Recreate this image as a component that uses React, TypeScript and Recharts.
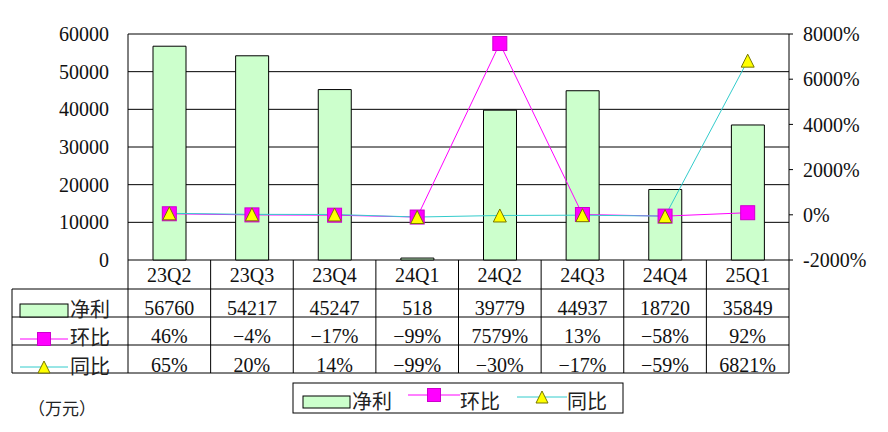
import React from 'react';
import {
  ComposedChart,
  Bar,
  Line,
  XAxis,
  YAxis,
  CartesianGrid,
  Customized,
} from 'recharts';

const QUARTERS   = ['23Q2', '23Q3', '23Q4', '24Q1', '24Q2', '24Q3', '24Q4', '25Q1'];
const NET_PROFIT = [56760, 54217, 45247, 518, 39779, 44937, 18720, 35849];
const QOQ        = [46, -4, -17, -99, 7579, 13, -58, 92];
const YOY        = [65, 20, 14, -99, -30, -17, -59, 6821];
const LEFT_TICKS  = [0, 10000, 20000, 30000, 40000, 50000, 60000];
const RIGHT_TICKS = [-2000, 0, 2000, 4000, 6000, 8000];
const SERIES_NAMES = ['净利', '环比', '同比'];
const UNIT_LABEL = '（万元）';

const BAR_COLOR  = '#CCFFCC';
const QOQ_COLOR  = '#FF00FF';
const YOY_COLOR  = '#33CCCC';
const TRI_COLOR  = '#FFFF00';

const W = 888;
const H = 432;
const PLOT_L = 128;
const PLOT_R = 789;
const PLOT_T = 34;
const PLOT_B = 260;
const AXIS_W = 60;
const XAXIS_H = 30;
const COL_W = (PLOT_R - PLOT_L) / QUARTERS.length;
const TABLE_L = 12;
const ROW_LINES = [289, 317, 345, 373];
const TEXT_Y = [275, 308, 336, 365];

const NUM_FONT = '"Liberation Serif", "Noto Sans CJK SC", serif';
const CJK_FONT = '"Noto Sans CJK SC", sans-serif';

const data = QUARTERS.map((q, i) => ({
  quarter: q,
  net: NET_PROFIT[i],
  qoq: QOQ[i],
  yoy: YOY[i],
}));

const fmtPct = (v: number) => `${v}%`;
const fmtCell = (v: number) => (v < 0 ? `−${Math.abs(v)}` : `${v}`);

function SquareDot(props: any) {
  const { cx, cy, size = 14 } = props;
  if (cx == null || cy == null) return null;
  return (
    <rect
      x={cx - size / 2}
      y={cy - size / 2}
      width={size}
      height={size}
      fill={QOQ_COLOR}
      stroke="#CC00CC"
      strokeWidth={1}
    />
  );
}

function TriangleDot(props: any) {
  const { cx, cy, size = 13 } = props;
  if (cx == null || cy == null) return null;
  const h = size / 2;
  return (
    <polygon
      points={`${cx},${cy - h} ${cx + h},${cy + h} ${cx - h},${cy + h}`}
      fill={TRI_COLOR}
      stroke="#777700"
      strokeWidth={1}
    />
  );
}

// one column of the data table under each category
function TableTick(props: any) {
  const { x, payload } = props;
  const i = payload?.index ?? 0;
  const right = x + COL_W / 2;
  const textStyle = { fontFamily: NUM_FONT, fontSize: 20, fill: '#111' };
  return (
    <g>
      <line x1={right} y1={PLOT_B} x2={right} y2={ROW_LINES[3]} stroke="#000" />
      <text x={x} y={TEXT_Y[0]} textAnchor="middle" dominantBaseline="central" style={textStyle}>
        {QUARTERS[i]}
      </text>
      <text x={x} y={TEXT_Y[1]} textAnchor="middle" dominantBaseline="central" style={textStyle}>
        {fmtCell(NET_PROFIT[i])}
      </text>
      <text x={x} y={TEXT_Y[2]} textAnchor="middle" dominantBaseline="central" style={textStyle}>
        {fmtCell(QOQ[i])}%
      </text>
      <text x={x} y={TEXT_Y[3]} textAnchor="middle" dominantBaseline="central" style={textStyle}>
        {fmtCell(YOY[i])}%
      </text>
    </g>
  );
}

function BarIcon({ x, y, w, h }: { x: number; y: number; w: number; h: number }) {
  return <rect x={x} y={y} width={w} height={h} fill={BAR_COLOR} stroke="#000" strokeWidth={1} />;
}

function QoqIcon({ x1, x2, y }: { x1: number; x2: number; y: number }) {
  return (
    <g>
      <line x1={x1} y1={y} x2={x2} y2={y} stroke={QOQ_COLOR} />
      <SquareDot cx={(x1 + x2) / 2} cy={y} size={13} />
    </g>
  );
}

function YoyIcon({ x1, x2, y }: { x1: number; x2: number; y: number }) {
  return (
    <g>
      <line x1={x1} y1={y} x2={x2} y2={y} stroke={YOY_COLOR} />
      <TriangleDot cx={(x1 + x2) / 2} cy={y} size={12} />
    </g>
  );
}

function Frame() {
  const cjk = { fontFamily: CJK_FONT, fontSize: 20, fill: '#222' };
  return (
    <g>
      {/* top border of plot area */}
      <line x1={PLOT_L} y1={PLOT_T} x2={PLOT_R} y2={PLOT_T} stroke="#808080" />
      {/* table grid */}
      <line x1={PLOT_L} y1={PLOT_B} x2={PLOT_L} y2={ROW_LINES[3]} stroke="#000" />
      <line x1={TABLE_L} y1={ROW_LINES[0]} x2={TABLE_L} y2={ROW_LINES[3]} stroke="#000" />
      {ROW_LINES.map((y) => (
        <line key={y} x1={TABLE_L} y1={y} x2={PLOT_R} y2={y} stroke="#000" />
      ))}

      {/* row headers */}
      <BarIcon x={20} y={304} w={48} h={13} />
      <text x={70} y={TEXT_Y[1]} dominantBaseline="central" style={cjk}>{SERIES_NAMES[0]}</text>
      <QoqIcon x1={20} x2={68} y={339} />
      <text x={70} y={TEXT_Y[2]} dominantBaseline="central" style={cjk}>{SERIES_NAMES[1]}</text>
      <YoyIcon x1={20} x2={68} y={367} />
      <text x={70} y={TEXT_Y[3]} dominantBaseline="central" style={cjk}>{SERIES_NAMES[2]}</text>

      {/* unit */}
      <text x={28} y={407} dominantBaseline="central" style={{ fontFamily: CJK_FONT, fontSize: 17, fill: '#222' }}>
        {UNIT_LABEL}
      </text>

      {/* legend */}
      <rect x={293} y={383} width={330} height={30} fill="#fff" stroke="#000" />
      <BarIcon x={303} y={396} w={47} h={12} />
      <text x={352} y={400} dominantBaseline="central" style={cjk}>{SERIES_NAMES[0]}</text>
      <QoqIcon x1={408} x2={460} y={395} />
      <text x={460} y={400} dominantBaseline="central" style={cjk}>{SERIES_NAMES[1]}</text>
      <YoyIcon x1={517} x2={567} y={397} />
      <text x={567} y={400} dominantBaseline="central" style={cjk}>{SERIES_NAMES[2]}</text>
    </g>
  );
}

export default function App() {
  const tickStyle = { fill: '#111', fontSize: 20, fontFamily: NUM_FONT };
  return (
    <div style={{ width: W, height: H, background: '#fff' }}>
      <style>{'body{margin:0;background:#fff}'}</style>
      <ComposedChart
        width={W}
        height={H}
        data={data}
        margin={{
          top: PLOT_T,
          right: W - PLOT_R - AXIS_W,
          bottom: H - PLOT_B - XAXIS_H,
          left: PLOT_L - AXIS_W,
        }}
        barCategoryGap={0}
      >
        <CartesianGrid yAxisId="left" vertical={false} stroke="#000" strokeOpacity={1} />
        <XAxis
          dataKey="quarter"
          height={XAXIS_H}
          axisLine={false}
          tickLine={false}
          tickSize={0}
          tickMargin={0}
          interval={0}
          tick={<TableTick />}
        />
        <YAxis
          yAxisId="left"
          orientation="left"
          width={AXIS_W}
          domain={[0, 60000]}
          ticks={LEFT_TICKS}
          interval={0}
          axisLine={{ stroke: '#000' }}
          tickLine={false}
          tickSize={10}
          tickMargin={9}
          tick={tickStyle}
        />
        <YAxis
          yAxisId="right"
          orientation="right"
          width={AXIS_W}
          domain={[-2000, 8000]}
          ticks={RIGHT_TICKS}
          interval={0}
          axisLine={{ stroke: '#000' }}
          tickLine={{ stroke: '#000' }}
          tickSize={4}
          tickMargin={10}
          tickFormatter={fmtPct}
          tick={tickStyle}
        />
        <Bar
          yAxisId="left"
          dataKey="net"
          barSize={33}
          fill={BAR_COLOR}
          stroke="#000"
          strokeWidth={1}
          isAnimationActive={false}
        />
        <Line
          yAxisId="right"
          dataKey="qoq"
          type="linear"
          stroke={QOQ_COLOR}
          strokeWidth={1}
          dot={(p: any) => <SquareDot key={`q-${p.index}`} cx={p.cx} cy={p.cy} />}
          activeDot={false}
          isAnimationActive={false}
        />
        <Line
          yAxisId="right"
          dataKey="yoy"
          type="linear"
          stroke={YOY_COLOR}
          strokeWidth={1}
          dot={(p: any) => <TriangleDot key={`y-${p.index}`} cx={p.cx} cy={p.cy} />}
          activeDot={false}
          isAnimationActive={false}
        />
        <Customized component={Frame} />
      </ComposedChart>
    </div>
  );
}
